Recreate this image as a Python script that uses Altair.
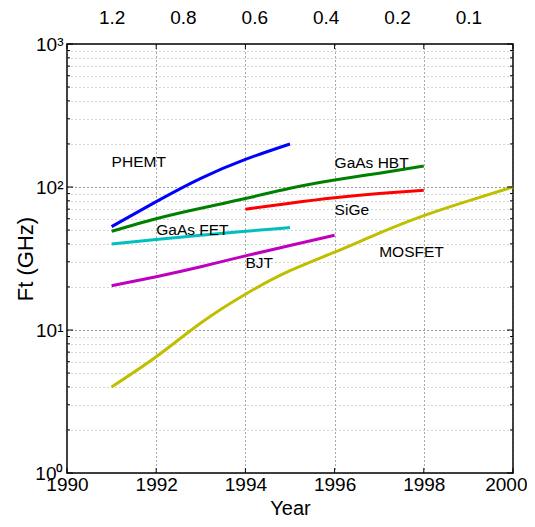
import altair as alt
import pandas as pd

# ---- data ----
series_names = ["PHEMT", "GaAs HBT", "SiGe", "GaAs FET", "BJT", "MOSFET"]
series_colors = ["#0000FF", "#008000", "#FF0000", "#00BFBF", "#BF00BF", "#BFBF00"]

phemt_years = [1991, 1992, 1993, 1994, 1995]
phemt_ft = [52.8, 79, 115, 156, 200]

hbt_years = [1991, 1992, 1993, 1994, 1995, 1996, 1997, 1998]
hbt_ft = [49, 60, 71, 83, 98, 112, 125, 140]

sige_years = [1994, 1995, 1996, 1997, 1998]
sige_ft = [70, 77, 84, 90, 95]

fet_years = [1991, 1992, 1993, 1994, 1995]
fet_ft = [40, 43, 46, 49, 52]

bjt_years = [1991, 1992, 1993, 1994, 1995, 1996]
bjt_ft = [20.4, 23.6, 27.7, 33, 39, 46]

mos_years = [1991, 1992, 1993, 1994, 1995, 1996, 1997, 1998, 1999, 2000]
mos_ft = [4.0, 6.5, 11.2, 17.8, 26, 35, 47.5, 63, 80, 100]

label_text = ["PHEMT", "GaAs HBT", "SiGe", "GaAs FET", "BJT", "MOSFET"]
label_year = [1991.0, 1996.0, 1996.0, 1992.0, 1994.0, 1997.0]
label_ft = [150, 147, 69, 50, 29.6, 35.3]

top_labels = ["1.2", "0.8", "0.6", "0.4", "0.2", "0.1"]
top_years = [1991.0, 1992.6, 1994.2, 1995.8, 1997.4, 1999.0]

x_ticks = [1990, 1992, 1994, 1996, 1998, 2000]
y_major = [1, 10, 100, 1000]
y_minor = [m * d for d in [1, 10, 100] for m in range(2, 10)]
# ---------------------------------------

rows = []
for name, ys, vs in [
    ("PHEMT", phemt_years, phemt_ft),
    ("GaAs HBT", hbt_years, hbt_ft),
    ("SiGe", sige_years, sige_ft),
    ("GaAs FET", fet_years, fet_ft),
    ("BJT", bjt_years, bjt_ft),
    ("MOSFET", mos_years, mos_ft),
]:
    for yr, v in zip(ys, vs):
        rows.append({"device": name, "year": yr, "ft": v})
df = pd.DataFrame(rows)

labels_df = pd.DataFrame({"label": label_text, "year": label_year, "ft": label_ft})
top_df = pd.DataFrame({"label": top_labels, "year": top_years})
xt_df = pd.DataFrame({"year": x_ticks})
ymaj_df = pd.DataFrame({"ft": y_major})
ymin_df = pd.DataFrame({"ft": y_minor})

FONT = "Liberation Sans"
W, H = 446, 429
MAJOR_TEST = " || ".join(f"datum.value == {v}" for v in y_major)
SUP = {1: "10⁰", 10: "10¹", 100: "10²", 1000: "10³"}
y_label_expr = " : ".join(f"datum.value == {v} ? '{s}'" for v, s in SUP.items()) + " : ''"
top_label_expr = " : ".join(
    f"abs(datum.value - {v}) < 0.01 ? '{s}'" for v, s in zip(top_years, top_labels)
) + " : ''"
LAST_X = f"datum.value == {x_ticks[-1]}"

x_scale = alt.Scale(domain=[1990, 2000], nice=False, zero=False)
y_scale = alt.Scale(type="log", domain=[1, 1000], nice=False)

x_bottom = alt.X(
    "year:Q",
    scale=x_scale,
    axis=alt.Axis(
        values=x_ticks,
        format="d",
        title="Year",
        labelFontSize=19,
        titleFontSize=20,
        titleFontWeight="normal",
        labelFont=FONT,
        titleFont=FONT,
        labelColor="black",
        titleColor="black",
        labelPadding=2,
        labelAlign={"condition": {"test": LAST_X, "value": "right"}, "value": "center"},
        labelOffset={"condition": {"test": LAST_X, "value": 14}, "value": 0},
        titleX=W / 2,
        titleY=41,
        titleBaseline="alphabetic",
        titleAlign="center",
        ticks=False,
        domain=False,
        grid=True,
        gridDash=[1, 3],
        gridColor="#555555",
        gridWidth=1,
        labelOverlap=False,
        labelFlush=False,
    ),
)

x_top = alt.X(
    "year:Q",
    scale=x_scale,
    axis=alt.Axis(
        orient="top",
        values=top_years,
        labelExpr=top_label_expr,
        title=None,
        labelFontSize=19,
        labelFont=FONT,
        labelColor="black",
        labelPadding=17,
        ticks=False,
        domain=False,
        grid=False,
        labelOverlap=False,
        labelFlush=False,
    ),
)

x_none = alt.X("year:Q", scale=x_scale, axis=None)

y_enc = alt.Y(
    "ft:Q",
    scale=y_scale,
    axis=alt.Axis(
        values=y_major + y_minor,
        labelExpr=y_label_expr,
        title="Ft (GHz)",
        labelFontSize=19,
        titleFontSize=22,
        titleFontWeight="normal",
        labelFont=FONT,
        titleFont=FONT,
        labelColor="black",
        titleColor="black",
        labelPadding=4,
        titleX=-42,
        titleY=H / 2,
        titleAngle=270,
        titleBaseline="middle",
        titleAlign="center",
        ticks=False,
        domain=False,
        grid=True,
        gridDash=[1, 3],
        gridColor={
            "condition": {"test": MAJOR_TEST, "value": "#333333"},
            "value": "#aaaaaa",
        },
        gridWidth=1,
        labelOverlap=False,
        labelFlush=False,
    ),
)

lines = alt.Chart(df).mark_line(strokeWidth=3, interpolate="natural").encode(
    x=x_bottom,
    y=y_enc,
    color=alt.Color(
        "device:N",
        scale=alt.Scale(domain=series_names, range=series_colors),
        legend=None,
    ),
    detail="device:N",
)

texts = alt.Chart(labels_df).mark_text(
    align="left", baseline="middle", fontSize=15.5, font=FONT, color="black"
).encode(x=x_none, y=y_enc, text="label:N")

# invisible layer that carries the top (gate length) axis
top = alt.Chart(top_df).mark_point(opacity=0).encode(x=x_top)

tick_style = dict(color="black", strokeWidth=1)
xt_bottom = alt.Chart(xt_df).mark_rule(**tick_style).encode(
    x=x_none, y=alt.value(H), y2=alt.value(H - 5)
)
xt_top = alt.Chart(xt_df).mark_rule(**tick_style).encode(
    x=x_none, y=alt.value(0), y2=alt.value(5)
)
ymaj_left = alt.Chart(ymaj_df).mark_rule(**tick_style).encode(
    y=y_enc, x=alt.value(0), x2=alt.value(6)
)
ymaj_right = alt.Chart(ymaj_df).mark_rule(**tick_style).encode(
    y=y_enc, x=alt.value(W), x2=alt.value(W - 6)
)
ymin_left = alt.Chart(ymin_df).mark_rule(**tick_style).encode(
    y=y_enc, x=alt.value(0), x2=alt.value(3)
)
ymin_right = alt.Chart(ymin_df).mark_rule(**tick_style).encode(
    y=y_enc, x=alt.value(W), x2=alt.value(W - 3)
)

chart = (
    alt.layer(
        lines, texts, top, xt_bottom, xt_top, ymaj_left, ymaj_right, ymin_left, ymin_right
    )
    .resolve_axis(x="independent")
    .properties(
        width=W,
        height=H,
        autosize=alt.AutoSizeParams(type="none"),
        padding={"left": 59, "top": 36, "right": 14, "bottom": 46},
        background="white",
    )
    .configure_view(stroke="black", strokeWidth=1.5)
)

chart.save("out.html", embed_options={"renderer": "svg", "actions": False})
